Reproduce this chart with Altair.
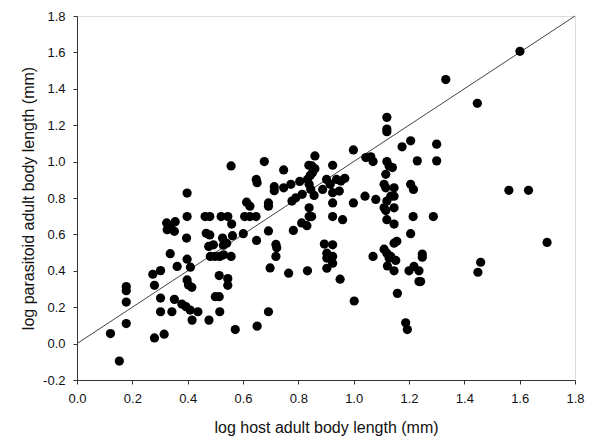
import altair as alt
import pandas as pd

host = [0.121, 0.153, 0.178, 0.178, 0.178, 0.178, 0.274, 0.302, 0.280, 0.302,
        0.302, 0.280, 0.315, 0.324, 0.355, 0.326, 0.352, 0.340, 0.337, 0.362,
        0.352, 0.343, 0.398, 0.398, 0.396, 0.398, 0.410, 0.398, 0.403, 0.415,
        0.379, 0.394, 0.409, 0.416, 0.437, 0.463, 0.480, 0.467, 0.480, 0.476,
        0.493, 0.482, 0.499, 0.477, 0.500, 0.514, 0.514, 0.516, 0.521, 0.545,
        0.526, 0.541, 0.529, 0.516, 0.530, 0.545, 0.545, 0.559, 0.557, 0.562,
        0.557, 0.572, 0.601, 0.613, 0.625, 0.606, 0.625, 0.647, 0.649, 0.651,
        0.648, 0.651, 0.677, 0.692, 0.692, 0.692, 0.698, 0.692, 0.713, 0.713,
        0.719, 0.722, 0.719, 0.747, 0.747, 0.765, 0.773, 0.782, 0.777, 0.791,
        0.805, 0.814, 0.812, 0.831, 0.833, 0.839, 0.845, 0.833, 0.839, 0.839,
        0.848, 0.838, 0.849, 0.860, 0.860, 0.857, 0.851, 0.843, 0.888, 0.902,
        0.915, 0.924, 0.924, 0.924, 0.924, 0.894, 0.924, 0.903, 0.924, 0.903,
        0.924, 0.903, 0.938, 0.948, 0.968, 0.954, 0.960, 0.951, 0.999, 0.999,
        1.002, 1.041, 1.044, 1.062, 1.070, 1.080, 1.070, 1.120, 1.120, 1.120,
        1.120, 1.128, 1.140, 1.116, 1.110, 1.116, 1.146, 1.120, 1.134, 1.146,
        1.110, 1.116, 1.146, 1.120, 1.146, 1.110, 1.120, 1.134, 1.146, 1.156,
        1.128, 1.122, 1.152, 1.146, 1.158, 1.175, 1.188, 1.194, 1.206, 1.230,
        1.206, 1.216, 1.215, 1.206, 1.200, 1.218, 1.236, 1.236, 1.242, 1.248,
        1.248, 1.288, 1.300, 1.300, 1.333, 1.447, 1.449, 1.459, 1.561, 1.601,
        1.632, 1.699]

parasitoid = [0.055, -0.096, 0.313, 0.291, 0.228, 0.110, 0.381, 0.401, 0.320, 0.250,
              0.175, 0.031, 0.052, 0.663, 0.670, 0.626, 0.617, 0.635, 0.494, 0.424,
              0.243, 0.175, 0.827, 0.698, 0.580, 0.464, 0.420, 0.350, 0.322, 0.309,
              0.217, 0.203, 0.184, 0.129, 0.175, 0.698, 0.698, 0.606, 0.597, 0.534,
              0.543, 0.479, 0.479, 0.129, 0.258, 0.258, 0.374, 0.175, 0.698, 0.698,
              0.580, 0.552, 0.541, 0.479, 0.488, 0.357, 0.320, 0.657, 0.479, 0.593,
              0.976, 0.077, 0.604, 0.777, 0.755, 0.698, 0.698, 0.698, 0.567, 0.096,
              0.902, 0.884, 1.000, 0.773, 0.755, 0.619, 0.416, 0.175, 0.862, 0.840,
              0.545, 0.527, 0.479, 0.954, 0.856, 0.387, 0.875, 0.622, 0.783, 0.801,
              0.891, 0.820, 0.663, 0.648, 0.902, 0.875, 0.847, 0.400, 0.746, 0.698,
              0.698, 0.980, 0.976, 0.961, 1.031, 0.814, 0.939, 0.924, 0.847, 0.902,
              0.875, 0.980, 0.829, 0.773, 0.698, 0.547, 0.543, 0.497, 0.479, 0.470,
              0.442, 0.414, 0.902, 0.838, 0.908, 0.893, 0.681, 0.354, 1.064, 0.773,
              0.234, 0.810, 1.022, 1.026, 1.000, 0.792, 0.479, 1.243, 1.179, 1.164,
              1.000, 0.976, 0.967, 0.930, 0.875, 0.856, 0.856, 0.783, 0.810, 0.810,
              0.746, 0.731, 0.746, 0.681, 0.657, 0.519, 0.497, 0.479, 0.552, 0.562,
              0.470, 0.427, 0.457, 0.400, 0.276, 1.081, 0.114, 0.077, 1.114, 1.004,
              0.875, 0.847, 0.698, 0.604, 0.400, 0.424, 0.400, 0.341, 0.341, 0.492,
              0.475, 0.698, 1.096, 1.004, 1.451, 1.320, 0.392, 0.447, 0.842, 1.606,
              0.842, 0.556]

x_ticks = [0.0, 0.2, 0.4, 0.6, 0.8, 1.0, 1.2, 1.4, 1.6, 1.8]
y_ticks = [-0.2, 0.0, 0.2, 0.4, 0.6, 0.8, 1.0, 1.2, 1.4, 1.6, 1.8]

line_x = [0.0, 1.8]
line_y = [0.0, 1.8]

pts = pd.DataFrame({"host": host, "para": parasitoid})
ln = pd.DataFrame({"host": line_x, "para": line_y})

font = "Liberation Sans"
lab = "datum.value < 0 ? '-' + format(-datum.value, '.1f') : format(datum.value, '.1f')"

xscale = alt.Scale(domain=[0, 1.8], nice=False, zero=False)
yscale = alt.Scale(domain=[-0.2, 1.8], nice=False, zero=False)

common = dict(grid=False, tickSize=4, labelOverlap=False, labelFontSize=13, titleFontSize=16,
              labelFont=font, titleFont=font, titleFontWeight="normal",
              domainColor="#333", tickColor="#333", labelColor="#111", titleColor="#111",
              labelExpr=lab, labelBound=False, labelFlush=False)

xaxis = alt.Axis(title="log host adult body length (mm)", values=x_ticks,
                 labelPadding=8, titlePadding=14, **common)
yaxis = alt.Axis(title="log parasitoid adult body length (mm)", values=y_ticks,
                 labelPadding=8, titlePadding=6, **common)

enc = dict(
    x=alt.X("host:Q", scale=xscale, axis=xaxis),
    y=alt.Y("para:Q", scale=yscale, axis=yaxis),
)

line = alt.Chart(ln).mark_line(color="#444", strokeWidth=1).encode(**enc)
points = alt.Chart(pts).mark_circle(color="black", opacity=1, size=85).encode(**enc)

chart = (line + points).properties(
    width=498, height=364,
    autosize=alt.AutoSizeParams(type="none"),
    padding={"left": 69, "top": 8, "right": 11, "bottom": 57},
).configure_view(stroke="#333", strokeWidth=1).configure_axis(
    labelOverlap=False
).configure(background="white")

chart.save("out.html", embed_options={"renderer": "svg", "actions": False})
